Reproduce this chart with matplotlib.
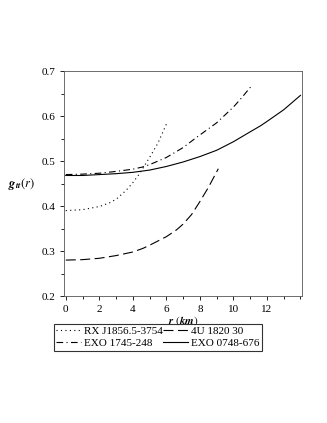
import numpy as np
import matplotlib
matplotlib.use("Agg")
import matplotlib.pyplot as plt
from matplotlib.ticker import MultipleLocator

plt.rcParams['font.family'] = ['Liberation Serif', 'DejaVu Serif']
plt.rcParams['mathtext.fontset'] = 'stix'

# values
r_rx = [0, 1, 2, 2.6, 3, 3.6, 4, 4.4, 5, 5.5, 6.0]
g_rx = [0.390, 0.392, 0.399, 0.407, 0.415, 0.435, 0.452, 0.472, 0.508, 0.540, 0.582]

r_4u = [0, 1, 2, 3, 4, 4.6, 5, 6, 6.6, 7, 7.5, 8, 8.5, 9.1]
g_4u = [0.280, 0.281, 0.284, 0.290, 0.298, 0.306, 0.313, 0.332, 0.347, 0.360, 0.381, 0.410, 0.441, 0.483]

r_exo1745 = [0, 1, 2, 3, 4, 4.6, 5, 6, 7, 7.6, 8, 9, 9.6, 10, 10.5, 11.1]
g_exo1745 = [0.470, 0.471, 0.473, 0.477, 0.482, 0.487, 0.492, 0.508, 0.530, 0.547, 0.558, 0.585,
             0.606, 0.620, 0.641, 0.668]

r_exo0748 = [0, 1, 2, 3, 4, 5, 6, 7, 8, 9, 10, 11, 11.6, 12, 13, 14]
g_exo0748 = [0.468, 0.468, 0.470, 0.472, 0.475, 0.480, 0.488, 0.498, 0.510, 0.524, 0.543, 0.565,
             0.578, 0.588, 0.614, 0.646]

labels = ["RX J1856.5-3754", "4U 1820 30", "EXO 1745-248", "EXO 0748-676"]

fig = plt.figure(figsize=(3.27, 4.23), dpi=100)
ax = fig.add_axes([0.196, 0.300, 0.728, 0.532])

lw = 0.8
l1, = ax.plot(r_rx, g_rx, color='black', lw=lw, linestyle=(0, (1, 3)))
l2, = ax.plot(r_4u, g_4u, color='black', lw=lw, linestyle=(0, (9, 4)))
l3, = ax.plot(r_exo1745, g_exo1745, color='black', lw=lw, linestyle=(0, (6, 3, 1, 3)))
l4, = ax.plot(r_exo0748, g_exo0748, color='black', lw=lw, linestyle='-')

ax.set_xlim(-0.1, 14.1)
ax.set_ylim(0.2, 0.7)
ax.xaxis.set_major_locator(MultipleLocator(2))
ax.xaxis.set_minor_locator(MultipleLocator(1))
ax.yaxis.set_major_locator(MultipleLocator(0.1))
ax.yaxis.set_minor_locator(MultipleLocator(0.05))
ax.tick_params(which='both', direction='out', labelsize=8, width=0.6, colors='black')
ax.tick_params(which='major', length=3)
ax.tick_params(which='minor', length=2)
ax.set_xticks(range(0, 14, 2))
ax.set_xticklabels([str(v) for v in range(0, 14, 2)])
ax.set_yticks([0.2, 0.3, 0.4, 0.5, 0.6, 0.7])
ax.set_yticklabels(["0.2", "0.3", "0.4", "0.5", "0.6", "0.7"])
for s in ax.spines.values():
    s.set_linewidth(0.6)
    s.set_color('#555555')

ax.set_xlabel(r"$\mathbfit{r}$ $(\mathbfit{km})$", fontsize=8, labelpad=0)
ax.set_ylabel(r"$\mathbfit{g}_{\mathbfit{tt}}(r)$", fontsize=9, rotation=0, labelpad=14,
              va='center')

leg = fig.legend([l1, l3, l2, l4], [labels[0], labels[2], labels[1], labels[3]],
                 ncol=2, loc='center', bbox_to_anchor=(0.483, 0.203), fontsize=8,
                 frameon=True, fancybox=False, edgecolor='black', handlelength=2.2,
                 handletextpad=0.3, columnspacing=0.0, borderpad=0.25, labelspacing=0.15,
                 borderaxespad=0)
leg.get_frame().set_linewidth(0.8)

fig.savefig("out.png", dpi=100)
